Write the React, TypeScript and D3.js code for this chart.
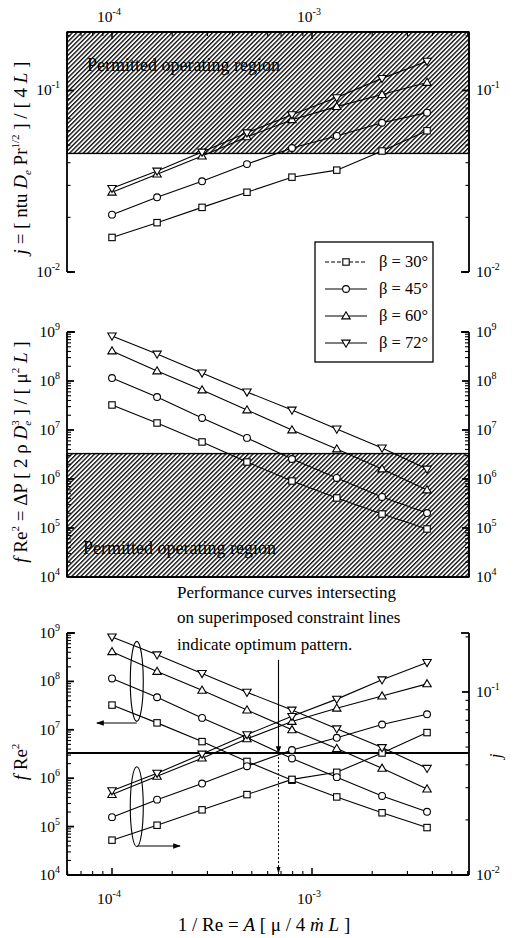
import React from "react";
import * as d3 from "d3";

// Re^-1 positions shared by every curve
const xValues = [1.0e-4, 1.68e-4, 2.82e-4, 4.73e-4, 7.94e-4, 1.33e-3, 2.24e-3, 3.76e-3];

const betaLabels = ["β = 30°", "β = 45°", "β = 60°", "β = 72°"];

// Colburn factor j
const j30 = [0.0155, 0.0187, 0.0227, 0.0275, 0.0333, 0.0364, 0.0464, 0.06];
const j45 = [0.0207, 0.0258, 0.0316, 0.0393, 0.0482, 0.0562, 0.0664, 0.0755];
const j60 = [0.0275, 0.0346, 0.0435, 0.0555, 0.069, 0.0815, 0.095, 0.1107];
const j72 = [0.0289, 0.036, 0.0458, 0.0585, 0.0736, 0.0914, 0.1166, 0.145];

// f Re^2
const f30 = [3.24e7, 1.39e7, 5.7e6, 2.22e6, 9.1e5, 4.1e5, 1.93e5, 9.55e4];
const f45 = [1.15e8, 4.7e7, 1.76e7, 6.9e6, 2.56e6, 1.05e6, 4.3e5, 2.02e5];
const f60 = [4.1e8, 1.6e8, 6.55e7, 2.56e7, 1.0e7, 4.1e6, 1.6e6, 5.97e5];
const f72 = [8.3e8, 3.55e8, 1.46e8, 5.98e7, 2.56e7, 1.05e7, 4.3e6, 1.6e6];

// constraints
const jLimit = 0.045;
const fLimit = 3.3e6;
const optimumX = 6.8e-4;

const xMajor = [1e-4, 1e-3];
const jMajor = [0.01, 0.1];
const fMajor = [1e4, 1e5, 1e6, 1e7, 1e8, 1e9];

const FONT = "Liberation Serif, serif";

const L = 67;
const R = 469;
const TOP = { y0: 32, y1: 272 };
const MID = { y0: 332, y1: 577 };
const BOT = { y0: 633, y1: 875 };

const x = d3.scaleLog().domain([10 ** -4.225, 10 ** -2.215]).range([L, R]);
const jTop = d3.scaleLog().domain([0.01, 0.21]).range([TOP.y1, TOP.y0]);
const fMid = d3.scaleLog().domain([1e4, 1e9]).range([MID.y1, MID.y0]);
const fBot = d3.scaleLog().domain([1e4, 1e9]).range([BOT.y1, BOT.y0]);
const jBot = d3.scaleLog().domain([0.01, 0.21]).range([BOT.y1, BOT.y0]);

const shapes = ["square", "circle", "up", "down"];
const series = [
  { label: betaLabels[0], j: j30, f: f30, shape: shapes[0], dash: "4,2" },
  { label: betaLabels[1], j: j45, f: f45, shape: shapes[1], dash: null },
  { label: betaLabels[2], j: j60, f: f60, shape: shapes[2], dash: null },
  { label: betaLabels[3], j: j72, f: f72, shape: shapes[3], dash: null },
];

function logTicks(domain: number[]) {
  const out: { v: number; major: boolean }[] = [];
  const lo = Math.floor(Math.log10(domain[0]));
  const hi = Math.ceil(Math.log10(domain[1]));
  for (let e = lo; e <= hi; e++) {
    for (let k = 1; k <= 9; k++) {
      const v = k * 10 ** e;
      if (v >= domain[0] * 0.999 && v <= domain[1] * 1.001) out.push({ v, major: k === 1 });
    }
  }
  return out;
}

function Marker({ shape, cx, cy }: { shape: string; cx: number; cy: number }) {
  const p = { fill: "#fff", stroke: "#000", strokeWidth: 1.1 };
  if (shape === "square") return <rect x={cx - 3.2} y={cy - 3.2} width={6.4} height={6.4} {...p} />;
  if (shape === "circle") return <circle cx={cx} cy={cy} r={3.4} {...p} />;
  if (shape === "up")
    return <path d={`M${cx},${cy - 4.2}L${cx + 4.2},${cy + 2.9}L${cx - 4.2},${cy + 2.9}Z`} {...p} />;
  return <path d={`M${cx},${cy + 4.2}L${cx + 4.2},${cy - 2.9}L${cx - 4.2},${cy - 2.9}Z`} {...p} />;
}

function Pow({ px, py, exp, anchor }: { px: number; py: number; exp: string; anchor: string }) {
  return (
    <text x={px} y={py} textAnchor={anchor} fontSize={15.5} fontFamily={FONT}>
      10
      <tspan dy={-7} fontSize={10}>
        {exp}
      </tspan>
    </text>
  );
}

function Curve({ ys, yScale, shape }: { ys: number[]; yScale: any; shape: string }) {
  const line = d3
    .line<number>()
    .x((_, i) => x(xValues[i]))
    .y((d) => yScale(d));
  return (
    <g>
      <path d={line(ys) || ""} fill="none" stroke="#000" strokeWidth={1.1} />
      {ys.map((d, i) => (
        <Marker key={i} shape={shape} cx={x(xValues[i])} cy={yScale(d)} />
      ))}
    </g>
  );
}

function YTicks({ scale, side, dense }: { scale: any; side: "left" | "right"; dense?: boolean }) {
  const x0 = side === "left" ? L : R;
  const s = side === "left" ? 1 : -1;
  return (
    <g stroke="#000">
      {logTicks(scale.domain()).map((t, i) => (
        <line
          key={i}
          x1={x0}
          x2={x0 + s * (t.major ? 7 : dense ? 4 : 3.5)}
          y1={scale(t.v)}
          y2={scale(t.v)}
          strokeWidth={t.major ? 1.8 : 1.1}
        />
      ))}
    </g>
  );
}

function XTicks({ y0, dir }: { y0: number; dir: number }) {
  return (
    <g stroke="#000">
      {logTicks(x.domain()).map((t, i) => (
        <line key={i} x1={x(t.v)} x2={x(t.v)} y1={y0} y2={y0 + dir * (t.major ? 7 : 4)} strokeWidth={t.major ? 1.5 : 1.1} />
      ))}
    </g>
  );
}

function Frame({ y0, y1, topFull, bottomFull }: { y0: number; y1: number; topFull: boolean; bottomFull: boolean }) {
  const st = { stroke: "#000", strokeWidth: 1.8 };
  return (
    <g>
      <line x1={L} x2={L} y1={y0} y2={y1} {...st} />
      <line x1={R} x2={R} y1={y0} y2={y1} {...st} />
      {topFull ? (
        <line x1={L} x2={R} y1={y0} y2={y0} {...st} />
      ) : (
        <g>
          <line x1={L} x2={L + 8} y1={y0} y2={y0} {...st} />
          <line x1={R - 8} x2={R} y1={y0} y2={y0} {...st} />
        </g>
      )}
      {bottomFull ? (
        <line x1={L} x2={R} y1={y1} y2={y1} {...st} />
      ) : (
        <g>
          <line x1={L} x2={L + 8} y1={y1} y2={y1} {...st} />
          <line x1={R - 8} x2={R} y1={y1} y2={y1} {...st} />
        </g>
      )}
    </g>
  );
}

export default function App() {
  const legendX = 315;
  const legendY = 242;
  const expJ = (v: number) => (v === 0.1 ? "-1" : "-2");
  const expF = (v: number) => String(Math.round(Math.log10(v)));
  const optX = x(optimumX);
  const yLimitBot = fBot(fLimit);

  return (
    <svg
      width={518}
      height={938}
      style={{ position: "absolute", left: 0, top: 0, background: "#fff" }}
      fontFamily={FONT}
    >
      <defs>
        <pattern id="hatch" patternUnits="userSpaceOnUse" width={3.2} height={3.2} patternTransform="rotate(45)">
          <line x1={0.7} y1={0} x2={0.7} y2={3.2} stroke="#000" strokeWidth={1.3} />
        </pattern>
        <marker id="arr" viewBox="0 0 10 10" refX={9} refY={5} markerWidth={7} markerHeight={7} orient="auto">
          <path d="M0,1.5L10,5L0,8.5Z" fill="#000" />
        </marker>
      </defs>

      {/* ---------- top panel: j ---------- */}
      <rect x={L} y={TOP.y0} width={R - L} height={jTop(jLimit) - TOP.y0} fill="url(#hatch)" stroke="#000" strokeWidth={1.4} />
      <text x={87} y={71} fontSize={18}>Permitted operating region</text>
      <Frame y0={TOP.y0} y1={TOP.y1} topFull={true} bottomFull={false} />
      <YTicks scale={jTop} side="left" />
      <YTicks scale={jTop} side="right" />
      <XTicks y0={TOP.y0} dir={1} />
      {xMajor.map((v, i) => (
        <Pow key={i} px={x(v) - 3} py={22} exp={i === 0 ? "-4" : "-3"} anchor="middle" />
      ))}
      {jMajor.map((v, i) => (
        <g key={i}>
          <Pow px={60} py={jTop(v) + 5} exp={expJ(v)} anchor="end" />
          <Pow px={476} py={jTop(v) + 5} exp={expJ(v)} anchor="start" />
        </g>
      ))}
      {series.map((s, i) => (
        <Curve key={i} ys={s.j} yScale={jTop} shape={s.shape} />
      ))}
      <text transform="translate(27,158) rotate(-90)" textAnchor="middle" fontSize={19}>
        <tspan fontStyle="italic">j</tspan>
        <tspan> = [ ntu </tspan>
        <tspan fontStyle="italic">D</tspan>
        <tspan fontSize={11} dy={4} fontStyle="italic">e</tspan>
        <tspan dy={-4}> Pr</tspan>
        <tspan fontSize={11} dy={-8}>1/2</tspan>
        <tspan dy={8}> ] / [ 4 </tspan>
        <tspan fontStyle="italic">L</tspan>
        <tspan> ]</tspan>
      </text>

      {/* ---------- middle panel: f Re^2 ---------- */}
      <rect x={L} y={fMid(fLimit)} width={R - L} height={MID.y1 - fMid(fLimit)} fill="url(#hatch)" stroke="#000" strokeWidth={1.4} />
      <text x={83} y={554} fontSize={18}>Permitted operating region</text>
      <Frame y0={MID.y0} y1={MID.y1} topFull={false} bottomFull={true} />
      <YTicks scale={fMid} side="left" dense />
      <YTicks scale={fMid} side="right" dense />
      {fMajor.map((v, i) => (
        <g key={i}>
          <Pow px={60} py={fMid(v) + 5} exp={expF(v)} anchor="end" />
          <Pow px={476} py={fMid(v) + 5} exp={expF(v)} anchor="start" />
        </g>
      ))}
      {series.map((s, i) => (
        <Curve key={i} ys={s.f} yScale={fMid} shape={s.shape} />
      ))}
      <text transform="translate(27,452) rotate(-90)" textAnchor="middle" fontSize={19}>
        <tspan fontStyle="italic">f</tspan>
        <tspan> Re</tspan>
        <tspan fontSize={11} dy={-8}>2</tspan>
        <tspan dy={8}> = ΔP [ 2 ρ </tspan>
        <tspan fontStyle="italic">D</tspan>
        <tspan fontSize={11} dy={4} fontStyle="italic">e</tspan>
        <tspan fontSize={11} dy={-12} dx={-5}>3</tspan>
        <tspan dy={8}> ] / [ μ</tspan>
        <tspan fontSize={11} dy={-8}>2</tspan>
        <tspan dy={8}> </tspan>
        <tspan fontStyle="italic">L</tspan>
        <tspan> ]</tspan>
      </text>

      {/* legend */}
      <rect x={legendX} y={legendY} width={118} height={120} fill="#fff" stroke="#000" strokeWidth={1.3} />
      {series.map((s, i) => {
        const ly = legendY + 20 + i * 27;
        return (
          <g key={i}>
            <line x1={legendX + 10} x2={legendX + 52} y1={ly} y2={ly} stroke="#000" strokeWidth={1.1} strokeDasharray={s.dash || undefined} />
            <Marker shape={s.shape} cx={legendX + 31} cy={ly} />
            <text x={legendX + 64} y={ly + 5} fontSize={16.5}>
              {s.label}
            </text>
          </g>
        );
      })}

      {/* annotation */}
      <text x={177} y={598} fontSize={17}>Performance curves intersecting</text>
      <text x={177} y={623} fontSize={17}>on superimposed constraint lines</text>
      <text x={177} y={650} fontSize={17}>indicate optimum pattern.</text>

      {/* ---------- bottom panel: both ---------- */}
      <Frame y0={BOT.y0} y1={BOT.y1} topFull={false} bottomFull={true} />
      <YTicks scale={fBot} side="left" dense />
      <YTicks scale={jBot} side="right" />
      <XTicks y0={BOT.y1} dir={-1} />
      {fMajor.map((v, i) => (
        <Pow key={i} px={60} py={fBot(v) + 5} exp={expF(v)} anchor="end" />
      ))}
      {jMajor.map((v, i) => (
        <Pow key={i} px={476} py={jBot(v) + 5} exp={expJ(v)} anchor="start" />
      ))}
      {xMajor.map((v, i) => (
        <Pow key={i} px={x(v) - 3} py={904} exp={i === 0 ? "-4" : "-3"} anchor="middle" />
      ))}
      <line x1={L} x2={R} y1={yLimitBot} y2={yLimitBot} stroke="#000" strokeWidth={2} />
      {series.map((s, i) => (
        <g key={i}>
          <Curve ys={s.f} yScale={fBot} shape={s.shape} />
          <Curve ys={s.j} yScale={jBot} shape={s.shape} />
        </g>
      ))}
      {/* ellipses + arrows */}
      <ellipse cx={x(1.33e-4)} cy={fBot(1e8)} rx={6.5} ry={40} fill="none" stroke="#000" strokeWidth={1.1} />
      <line x1={x(1.33e-4)} x2={x(8.4e-5)} y1={fBot(1.38e7)} y2={fBot(1.38e7)} stroke="#000" strokeWidth={1.1} markerEnd="url(#arr)" />
      <ellipse cx={x(1.33e-4)} cy={jBot(0.0236)} rx={6.5} ry={40} fill="none" stroke="#000" strokeWidth={1.1} />
      <line x1={x(1.33e-4)} x2={x(2.19e-4)} y1={jBot(0.0144)} y2={jBot(0.0144)} stroke="#000" strokeWidth={1.1} markerEnd="url(#arr)" />
      <line x1={optX} x2={optX} y1={fBot(2.8e8)} y2={yLimitBot} stroke="#000" strokeWidth={1.1} markerEnd="url(#arr)" />
      <line x1={optX} x2={optX} y1={yLimitBot} y2={BOT.y1} stroke="#000" strokeDasharray="2,2" />
      <path d={`M${optX - 2},${BOT.y1 - 8}L${optX + 2},${BOT.y1 - 8}L${optX},${BOT.y1 - 1}Z`} fill="#000" />

      <text transform="translate(27,762) rotate(-90)" textAnchor="middle" fontSize={19}>
        <tspan fontStyle="italic">f</tspan>
        <tspan> Re</tspan>
        <tspan fontSize={11} dy={-8}>2</tspan>
      </text>
      <text transform="translate(501,756) rotate(-90)" textAnchor="middle" fontSize={17} fontStyle="italic">
        j
      </text>
      <text x={264} y={931} textAnchor="middle" fontSize={19}>
        <tspan>1 / Re = </tspan>
        <tspan fontStyle="italic">A</tspan>
        <tspan> [ μ / 4 </tspan>
        <tspan fontStyle="italic">ṁ</tspan>
        <tspan> </tspan>
        <tspan fontStyle="italic">L</tspan>
        <tspan> ]</tspan>
      </text>
    </svg>
  );
}
